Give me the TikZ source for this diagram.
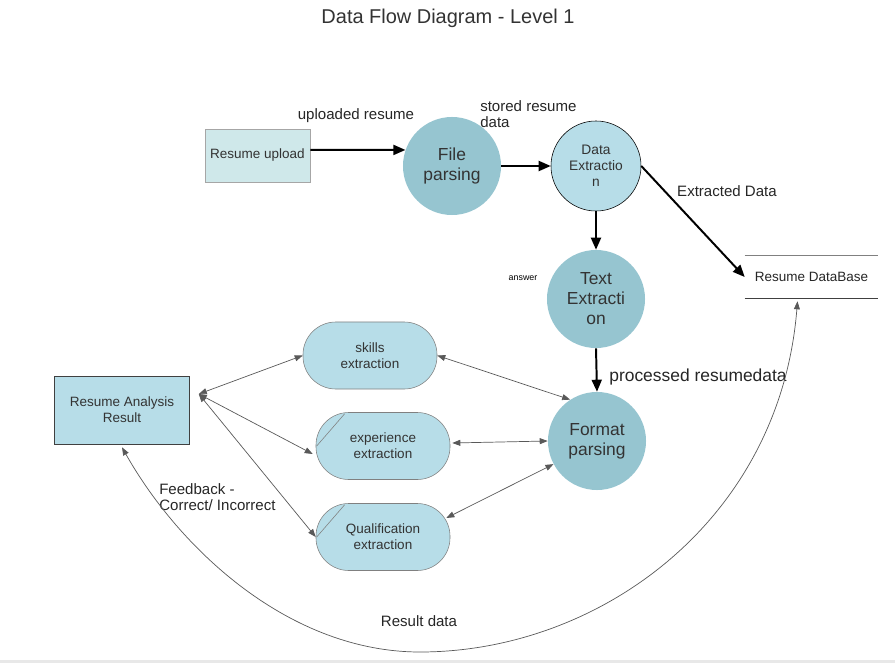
\documentclass[tikz,border=0pt]{standalone}
\usepackage{fontspec}
\setmainfont{Liberation Sans}
\usetikzlibrary{arrows.meta,calc}
\definecolor{procfill}{HTML}{96C5D0}
\definecolor{storefill}{HTML}{B7DDE8}
\definecolor{upfill}{HTML}{CFE8EA}
\definecolor{linegray}{HTML}{595959}
\definecolor{txt}{HTML}{333333}
\begin{document}
\begin{tikzpicture}[x=0.025cm,y=-0.025cm,
  proc/.style={circle,fill=procfill,minimum size=2.45cm,inner sep=0pt,align=center,text=txt,font=\fontsize{12.4}{14.2}\selectfont},
  sub/.style={rectangle,rounded corners=0.82cm,draw=gray,fill=storefill,minimum width=3.35cm,minimum height=1.675cm,align=center,text=txt,font=\fontsize{9.6}{11.4}\selectfont},
  lbl/.style={font=\fontsize{10.7}{11.4}\selectfont,inner sep=0pt,text=black!85},
  flow/.style={-{Triangle[length=0.3cm,width=0.25cm]},line width=1.4pt},
  link/.style={{Triangle[length=0.2cm,width=0.15cm]}-{Triangle[length=0.2cm,width=0.15cm]},linegray,line width=0.5pt}]
  \useasboundingbox (0,0) rectangle (895,663);
  \fill[black!9] (0,660) rectangle (895,663);
  \node[font=\fontsize{14.2}{17}\selectfont,text=txt] (title) at (448,18.5) {Data Flow Diagram - Level 1};

  \node[draw=gray!70,fill=upfill,minimum width=2.625cm,minimum height=1.325cm,text=txt,font=\fontsize{9.6}{11.4}\selectfont] (upload) at (257.5,155.5) {Resume upload};
  \node[proc] (fparse) at (452,166) {File\\parsing};
  \node[proc,draw=black,fill=storefill,minimum size=2.25cm,font=\fontsize{9.8}{11.4}\selectfont] (dextract) at (596,166) {Data\\Extractio\\n};
  \node[proc] (textract) at (596,299) {Text\\Extracti\\on};
  \node[proc] (fmtparse) at (597,441) {Format\\parsing};
  \node[minimum width=3.325cm,minimum height=1.05cm,text=black!85,font=\fontsize{9.6}{11.4}\selectfont] (db) at (811.5,277) {Resume DataBase};
  \draw[gray] (db.north west) -- (db.north east);
  \draw[black!75] (db.south west) -- (db.south east);

  \node[sub] (skills) at (370,355.5) {skills\\extraction};
  \node[sub] (exper) at (383,446) {experience\\extraction};
  \node[sub] (qualif) at (383,537) {Qualification\\extraction};
  \draw[gray] ($(exper.north west)+(29,1.5)$) -- ($(exper.west)+(1,0)$);
  \draw[gray] ($(qualif.north west)+(29,1.5)$) -- ($(qualif.west)+(1,0)$);
  \node[draw=black!75,fill=storefill,minimum width=3.375cm,minimum height=1.7cm,align=center,text=txt,font=\fontsize{9.6}{11.4}\selectfont] (result) at (122,410) {Resume Analysis\\Result};

  \node[lbl] (lupload) at (356,115.5) {uploaded resume};
  \node[lbl,anchor=west,align=left] (lstored) at (480,114.5) {stored resume\\data};
  \node[lbl] (lextract) at (727,191.5) {Extracted Data};
  \node[font=\fontsize{6.3}{7}\selectfont,inner sep=0pt] (lanswer) at (523,278) {answer};
  \node[font=\fontsize{12.4}{14}\selectfont,inner sep=0pt,text=black!85] (lproc) at (698,376.5) {processed resumedata};
  \node[lbl,anchor=west,align=left] (lfeed) at (159,497.5) {Feedback -\\Correct/ Incorrect};
  \node[lbl] (lres) at (419,621.5) {Result data};

  \draw[flow] ([yshift=0.14cm]upload.east) -- (fparse.161);
  \draw[flow] (fparse.east) -- (dextract.west);
  \draw[flow] (dextract.south) -- (textract.north);
  \draw[flow] (dextract.east) -- (db.west);
  \draw[flow] (textract.south) -- (fmtparse.north);

  \coordinate (hub) at ($(result.east)+(9,-16)$);
  \draw[link] (hub) -- (skills.west);
  \draw[link] (hub) -- ($(exper.west)+(-3,8)$);
  \draw[link] (hub) -- (qualif.west);
  \draw[link] (skills.east) -- (fmtparse.123);
  \draw[link] ($(exper.east)+(2,-3)$) -- (fmtparse.west);
  \draw[link] ($(qualif.east)+(-4,-19)$) -- (fmtparse.208);
  \draw[link] ($(result.south)+(0,3)$) .. controls (180,550) and (290,652) .. (420,652) .. controls (600,652) and (780,520) .. ($(db.south)+(-14,3)$);
\end{tikzpicture}
\end{document}
